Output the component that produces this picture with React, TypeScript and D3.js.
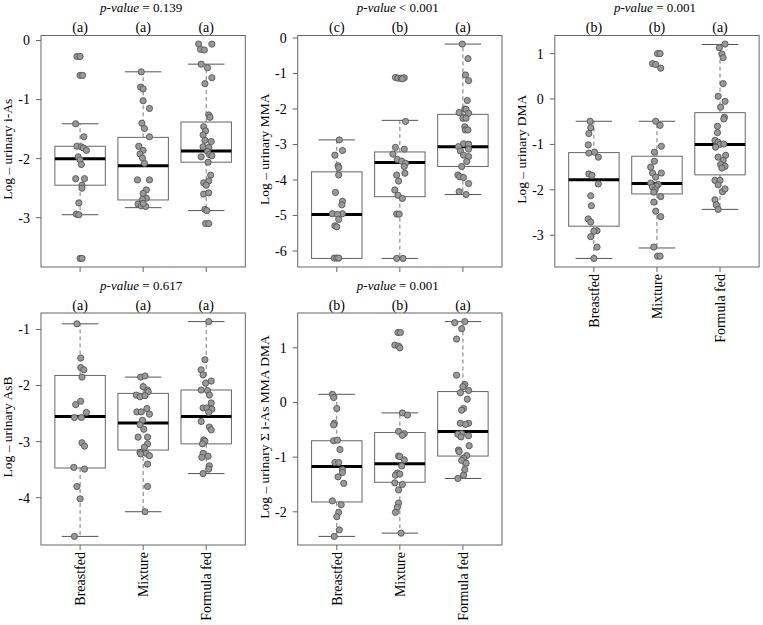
import React from 'react';
import * as d3 from 'd3';

type Pt = [number, number]; // [horizontal jitter (category units), value]
type Stats = [number, number, number, number, number]; // lower whisker, Q1, median, Q3, upper whisker

const groups = ['Breastfed', 'Mixture', 'Formula fed'];

// ---------- i-As ----------
const iAsBF: Pt[] = [[-0.05,-0.27],[0.0,-0.27],[0.0,-0.59],[0.04,-0.59],[-0.07,-1.41],[0.06,-1.63],[-0.05,-1.79],[0.02,-1.80],[0.05,-1.82],[0.10,-1.86],[-0.03,-1.97],[0.0,-2.02],[0.02,-2.10],[-0.07,-2.34],[0.07,-2.34],[0.03,-2.45],[0.03,-2.50],[-0.02,-2.75],[-0.06,-2.94],[-0.02,-2.95],[0.0,-3.69],[0.03,-3.69]];
const iAsMX: Pt[] = [[-0.03,-0.53],[-0.04,-0.79],[0.0,-0.82],[0.0,-1.02],[0.10,-1.15],[-0.02,-1.40],[0.02,-1.49],[0.10,-1.63],[-0.07,-1.79],[0.0,-1.86],[-0.05,-1.92],[-0.01,-1.99],[0.02,-2.08],[-0.09,-2.36],[0.10,-2.36],[0.05,-2.53],[0.0,-2.59],[0.05,-2.67],[-0.01,-2.69],[-0.08,-2.77],[-0.03,-2.80],[0.04,-2.81],[0.0,-2.76]];
const iAsFF: Pt[] = [[-0.12,-0.06],[0.09,-0.06],[-0.09,-0.15],[-0.03,-0.16],[-0.08,-0.40],[0.02,-0.46],[0.09,-0.63],[-0.02,-0.73],[0.04,-1.26],[0.06,-1.30],[-0.04,-1.46],[-0.01,-1.53],[-0.05,-1.60],[0.08,-1.71],[-0.02,-1.69],[-0.05,-1.80],[0.04,-1.81],[0.02,-1.88],[0.05,-1.93],[-0.08,-1.97],[0.09,-1.95],[0.03,-2.06],[0.07,-2.28],[-0.04,-2.41],[0.04,-2.38],[0.0,-2.45],[-0.04,-2.60],[0.04,-2.58],[-0.02,-2.86],[0.01,-2.88],[-0.01,-3.10],[0.04,-3.10]];
const iAsStats: Stats[] = [[-2.95,-2.45,-2.0,-1.79,-1.41],[-2.83,-2.70,-2.12,-1.64,-0.53],[-2.88,-2.06,-1.87,-1.38,-0.40]];

// ---------- MMA ----------
const mmaBF: Pt[] = [[0.04,-2.87],[-0.03,-3.30],[0.09,-3.17],[0.02,-3.60],[0.03,-3.65],[0.03,-3.86],[-0.02,-4.35],[0.09,-4.60],[0.08,-4.70],[-0.07,-4.95],[0.09,-4.95],[0.01,-4.97],[0.03,-5.11],[-0.03,-5.29],[0.0,-5.32],[-0.04,-6.20],[0.0,-6.20],[0.03,-6.20]];
const mmaMX: Pt[] = [[-0.07,-1.11],[-0.03,-1.13],[0.02,-1.13],[0.07,-1.12],[0.04,-1.15],[0.09,-2.35],[-0.07,-3.08],[0.07,-3.13],[-0.11,-3.27],[-0.04,-3.42],[0.03,-3.47],[0.09,-3.53],[0.07,-3.62],[0.08,-3.81],[-0.05,-3.86],[-0.02,-4.03],[-0.08,-4.28],[-0.03,-4.43],[0.04,-4.52],[-0.05,-4.96],[-0.01,-4.96],[-0.05,-6.21],[0.05,-6.21]];
const mmaFF: Pt[] = [[-0.01,-0.17],[0.08,-0.58],[0.04,-1.04],[0.09,-1.20],[0.07,-1.76],[0.03,-2.00],[0.05,-2.01],[-0.06,-2.10],[0.09,-2.12],[0.0,-2.26],[0.05,-2.26],[0.03,-2.50],[0.04,-2.59],[0.08,-2.59],[0.01,-2.98],[0.09,-2.99],[-0.07,-3.06],[0.09,-3.13],[-0.04,-3.18],[0.01,-3.30],[0.09,-3.34],[0.06,-3.48],[-0.02,-3.62],[-0.08,-3.86],[-0.05,-3.91],[0.01,-3.93],[0.09,-4.10],[-0.06,-4.33],[0.05,-4.41]];
const mmaStats: Stats[] = [[-6.21,-6.21,-4.97,-3.77,-2.87],[-6.21,-4.47,-3.51,-3.21,-2.32],[-4.41,-3.62,-3.06,-2.15,-0.17]];

// ---------- DMA ----------
const dmaBF: Pt[] = [[-0.06,-0.49],[-0.05,-0.63],[-0.08,-0.76],[-0.09,-1.01],[-0.08,-1.19],[0.01,-1.17],[0.07,-1.28],[-0.08,-1.65],[-0.03,-1.68],[0.07,-1.87],[-0.05,-2.13],[-0.04,-2.35],[-0.09,-2.64],[-0.05,-2.71],[0.05,-2.90],[0.0,-2.91],[-0.05,-3.03],[0.05,-3.26],[0.0,-3.51]];
const dmaMX: Pt[] = [[0.01,1.00],[0.05,1.00],[-0.07,0.78],[-0.02,0.76],[0.06,0.68],[-0.02,-0.49],[0.05,-0.58],[0.07,-1.04],[-0.04,-1.17],[-0.04,-1.37],[-0.10,-1.50],[0.07,-1.63],[-0.07,-1.63],[-0.02,-1.72],[-0.10,-1.85],[0.02,-1.88],[-0.01,-1.92],[-0.07,-1.94],[-0.03,-2.00],[-0.05,-2.05],[0.06,-2.15],[-0.05,-2.27],[-0.02,-2.47],[0.06,-2.59],[-0.05,-3.26],[0.01,-3.46],[0.05,-3.46]];
const dmaFF: Pt[] = [[0.08,1.21],[-0.01,1.13],[0.03,0.99],[0.05,0.91],[0.05,0.34],[-0.03,0.06],[0.08,-0.05],[0.01,-0.18],[0.07,-0.40],[0.06,-0.44],[-0.04,-0.60],[-0.04,-0.74],[-0.08,-0.91],[-0.03,-0.95],[0.0,-1.0],[0.06,-0.99],[-0.07,-1.06],[-0.03,-1.28],[0.09,-1.24],[0.05,-1.35],[0.01,-1.44],[0.08,-1.48],[0.03,-1.52],[-0.08,-1.79],[0.0,-1.79],[-0.03,-1.89],[0.04,-2.04],[0.08,-1.98],[-0.08,-2.22],[-0.06,-2.33],[-0.03,-2.43]];
const dmaStats: Stats[] = [[-3.51,-2.80,-1.78,-1.18,-0.49],[-3.28,-2.09,-1.86,-1.26,-0.49],[-2.43,-1.67,-1.0,-0.30,1.20]];

// ---------- AsB ----------
const asbBF: Pt[] = [[-0.05,-0.90],[0.01,-1.51],[0.01,-1.68],[0.06,-1.72],[0.03,-1.85],[-0.07,-2.34],[0.01,-2.28],[0.10,-2.48],[0.02,-2.57],[-0.09,-2.57],[0.03,-3.02],[0.07,-3.08],[-0.10,-3.46],[0.07,-3.49],[-0.05,-3.80],[0.0,-4.02],[-0.09,-4.69]];
const asbMX: Pt[] = [[-0.04,-1.85],[0.03,-1.83],[0.0,-2.02],[0.07,-2.08],[-0.11,-2.17],[0.08,-2.11],[-0.05,-2.20],[0.03,-2.18],[-0.10,-2.47],[0.06,-2.41],[-0.03,-2.47],[0.10,-2.51],[-0.01,-2.62],[-0.05,-2.70],[0.01,-2.78],[-0.08,-2.92],[0.07,-2.92],[0.07,-3.04],[0.02,-3.10],[-0.05,-3.19],[0.05,-3.21],[0.10,-3.25],[0.07,-3.40],[-0.04,-3.22],[0.07,-3.80],[0.03,-4.25]];
const asbFF: Pt[] = [[0.04,-0.86],[-0.02,-1.54],[-0.08,-1.72],[-0.05,-1.81],[0.08,-1.92],[-0.01,-1.96],[-0.08,-2.08],[0.02,-2.09],[0.05,-2.17],[0.08,-2.31],[-0.05,-2.40],[0.01,-2.40],[0.09,-2.42],[0.04,-2.48],[-0.08,-2.64],[0.05,-2.74],[0.08,-2.79],[-0.04,-2.97],[-0.02,-2.99],[-0.06,-3.04],[-0.05,-3.21],[0.03,-3.26],[-0.07,-3.28],[0.05,-3.43],[0.04,-3.49],[-0.05,-3.57]];
const asbStats: Stats[] = [[-4.69,-3.47,-2.55,-1.82,-0.90],[-4.25,-3.15,-2.67,-2.14,-1.85],[-3.57,-3.04,-2.55,-2.08,-0.86]];

// ---------- Sum i-As MMA DMA ----------
const sumBF: Pt[] = [[-0.07,0.15],[-0.05,0.09],[0.0,-0.11],[-0.04,-0.38],[-0.05,-0.41],[-0.05,-0.70],[0.01,-0.69],[0.05,-0.86],[-0.03,-1.10],[0.03,-1.10],[0.09,-1.23],[0.09,-1.28],[0.02,-1.36],[0.11,-1.48],[-0.07,-1.80],[0.07,-1.87],[0.03,-2.01],[0.0,-2.09],[0.04,-2.33],[-0.04,-2.45]];
const sumMX: Pt[] = [[-0.03,1.28],[0.01,1.28],[-0.08,1.05],[-0.02,1.03],[0.0,1.00],[0.04,-0.19],[0.12,-0.23],[-0.02,-0.53],[0.07,-0.57],[0.04,-0.60],[-0.02,-0.98],[0.0,-0.99],[0.07,-1.05],[0.03,-1.16],[-0.04,-1.29],[-0.07,-1.33],[0.0,-1.31],[-0.08,-1.47],[0.04,-1.50],[-0.02,-1.60],[-0.02,-1.84],[-0.04,-1.92],[-0.07,-2.01],[0.02,-2.39]];
const sumFF: Pt[] = [[-0.13,1.46],[0.03,1.48],[-0.02,1.35],[-0.10,1.16],[-0.10,0.50],[0.03,0.33],[0.0,0.29],[0.09,0.22],[-0.04,0.18],[0.07,0.06],[0.01,-0.11],[-0.02,-0.14],[-0.04,-0.38],[0.09,-0.38],[0.04,-0.40],[-0.02,-0.57],[-0.08,-0.58],[-0.03,-0.63],[0.09,-0.61],[0.10,-0.79],[-0.07,-0.87],[-0.06,-0.90],[0.06,-0.97],[0.01,-1.02],[-0.02,-1.06],[0.05,-1.11],[0.03,-1.23],[0.01,-1.33],[-0.08,-1.39]];
const sumStats: Stats[] = [[-2.45,-1.82,-1.17,-0.70,0.15],[-2.39,-1.46,-1.12,-0.55,-0.19],[-1.39,-0.98,-0.53,0.20,1.48]];

const pValues = ['= 0.139', '< 0.001', '= 0.001', '= 0.617', '= 0.001'];
const letters = [['(a)','(a)','(a)'],['(c)','(b)','(a)'],['(b)','(b)','(a)'],['(a)','(a)','(a)'],['(b)','(b)','(a)']];
const yLabels = ['Log \u2013 urinary i-As','Log \u2013 urinary MMA','Log \u2013 urinary DMA','Log \u2013 urinary AsB','Log \u2013 urinary \u03A3 i-As MMA DMA'];
const yTicks = [[0,-1,-2,-3],[0,-1,-2,-3,-4,-5,-6],[1,0,-1,-2,-3],[-1,-2,-3,-4],[1,0,-1,-2]];

const panelPoints = [[iAsBF,iAsMX,iAsFF],[mmaBF,mmaMX,mmaFF],[dmaBF,dmaMX,dmaFF],[asbBF,asbMX,asbFF],[sumBF,sumMX,sumFF]];
const panelStats = [iAsStats, mmaStats, dmaStats, asbStats, sumStats];

// layout
const colLeft = [41, 297.7, 554.8];
const plotW = 204.3;
const rowTop = [35.5, 313];
const plotH = [231.5, 232];
const showX = [false, false, true, true, true];

const FONT = '"Liberation Serif", "Times New Roman", Times, serif';
const FS = 14;

function Panel({ idx }: { idx: number }) {
  const col = idx % 3;
  const row = Math.floor(idx / 3);
  const left = colLeft[col];
  const right = left + plotW;
  const top = rowTop[row];
  const bottom = top + plotH[row];
  const pts = panelPoints[idx];
  const stats = panelStats[idx];
  const all: number[] = [];
  pts.forEach(g => g.forEach(p => all.push(p[1])));
  stats.forEach(s => s.forEach(v => all.push(v)));
  const [lo, hi] = d3.extent(all) as [number, number];
  const ext = (hi - lo) * 0.04;
  const y = d3.scaleLinear().domain([lo - ext, hi + ext]).range([bottom, top]);
  const x = d3.scaleLinear().domain([0.38, 3.62]).range([left, right]);
  const boxHalf = 0.4;
  const capHalf = 0.29;
  const cx = (left + right) / 2;
  const cy = (top + bottom) / 2;
  const frameCol = '#666';
  return (
    <g>
      <text x={cx - 2} y={top - 23.5} textAnchor="middle" fontFamily={FONT} fontSize={13}>
        <tspan fontStyle="italic">p-value</tspan>{' ' + pValues[idx]}
      </text>
      {groups.map((g, i) => (
        <text key={'l' + i} x={x(i + 1)} y={top - 3.5} textAnchor="middle" fontFamily={FONT} fontSize={FS}>{letters[idx][i]}</text>
      ))}
      {/* y axis */}
      {yTicks[idx].map(t => (
        <g key={'t' + t}>
          <line x1={left - 5} x2={left} y1={y(t)} y2={y(t)} stroke={frameCol} />
          <text x={left - 11} y={y(t)} dy="0.35em" textAnchor="end" fontFamily={FONT} fontSize={FS}>{t}</text>
        </g>
      ))}
      <text transform={`translate(${left - 29},${cy - 2}) rotate(-90)`} textAnchor="middle" fontFamily={FONT} fontSize={13.5}>{yLabels[idx]}</text>
      {/* x ticks */}
      {groups.map((g, i) => (
        <line key={'xt' + i} x1={x(i + 1)} x2={x(i + 1)} y1={bottom} y2={bottom + 5} stroke={frameCol} />
      ))}
      {showX[idx] && groups.map((g, i) => (
        <text key={'xl' + i} transform={`translate(${x(i + 1)},${bottom + 7}) rotate(-90)`} dy="0.35em" textAnchor="end" fontFamily={FONT} fontSize={FS}>{g}</text>
      ))}
      {/* boxes */}
      {stats.map((s, i) => {
        const c = i + 1;
        return (
          <g key={'b' + i}>
            <line x1={x(c)} x2={x(c)} y1={y(s[3])} y2={y(s[4])} stroke="#777" strokeDasharray="4,3" />
            <line x1={x(c)} x2={x(c)} y1={y(s[1])} y2={y(s[0])} stroke="#777" strokeDasharray="4,3" />
            <line x1={x(c - capHalf)} x2={x(c + capHalf)} y1={y(s[4])} y2={y(s[4])} stroke="#555" />
            <line x1={x(c - capHalf)} x2={x(c + capHalf)} y1={y(s[0])} y2={y(s[0])} stroke="#555" />
            <rect x={x(c - boxHalf)} y={y(s[3])} width={x(c + boxHalf) - x(c - boxHalf)} height={y(s[1]) - y(s[3])} fill="#fff" stroke="#666" />
            <line x1={x(c - boxHalf)} x2={x(c + boxHalf)} y1={y(s[2])} y2={y(s[2])} stroke="#000" strokeWidth={3} />
          </g>
        );
      })}
      {/* points */}
      {pts.map((g, i) => g.map((p, j) => (
        <circle key={'p' + i + '_' + j} cx={x(i + 1 + p[0])} cy={y(p[1])} r={3.1} fill="#999" stroke="#555" strokeWidth={0.9} />
      )))}
      <rect x={left} y={top} width={plotW} height={bottom - top} fill="none" stroke={frameCol} />
    </g>
  );
}

export default function App() {
  return (
    <svg width={763} height={625} style={{ position: 'absolute', left: 0, top: 0, background: '#fff' }}>
      <rect width={763} height={625} fill="#fff" />
      {[0, 1, 2, 3, 4].map(i => <Panel key={i} idx={i} />)}
    </svg>
  );
}
